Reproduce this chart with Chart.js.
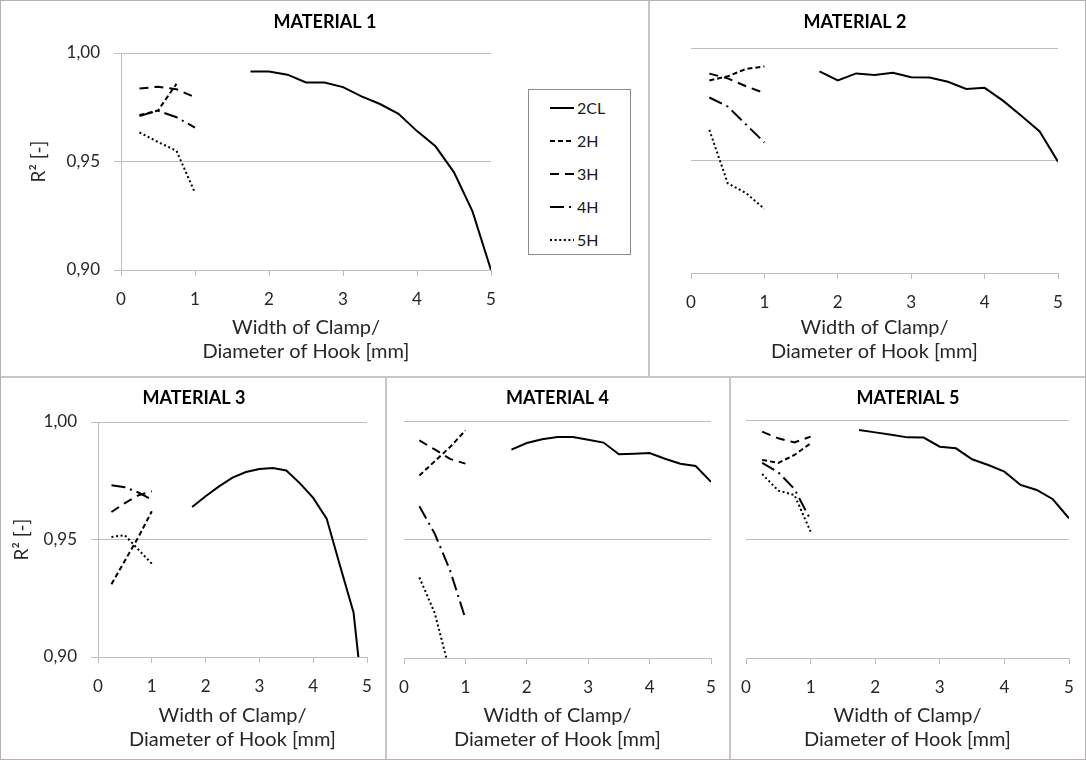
<!DOCTYPE html>
<html>
<head>
<meta charset="utf-8">
<title>R² – Width of Clamp / Diameter of Hook</title>
<script src="https://cdn.jsdelivr.net/npm/chart.js@4.4.0/dist/chart.umd.min.js"></script>
<style>
  body { margin: 0; background: #fff; font-family: Lato, sans-serif; }
  #sheet { position: relative; width: 1086px; height: 760px; background: #fff; overflow: hidden; }
  #sheet canvas { position: absolute; }
  .rule { position: absolute; background: #c9c5c9; }
  #frame { position: absolute; left: 0; top: 0; width: 1086px; height: 760px; box-sizing: border-box; border: 1px solid #b5b1b5; }
  #legend { position: absolute; left: 528px; top: 89px; width: 103px; height: 166px; box-sizing: border-box; border: 1px solid #8c8c8c; padding-top: 1px; background: #fff; }
  #legend .item { display: flex; align-items: center; height: 33px; font-size: 16px; color: #1a1a1a; }
  #legend svg { margin-left: 21px; margin-right: 3px; }
</style>
</head>
<body>
<div id="sheet">
  <div class="rule" style="left:0;top:376px;width:1086px;height:2px"></div>
  <div class="rule" style="left:648px;top:0;width:2px;height:377px"></div>
  <div class="rule" style="left:385px;top:377px;width:2px;height:383px"></div>
  <div class="rule" style="left:729px;top:377px;width:2px;height:383px"></div>
  <canvas id="mat1"></canvas>
  <canvas id="mat2"></canvas>
  <canvas id="mat3"></canvas>
  <canvas id="mat4"></canvas>
  <canvas id="mat5"></canvas>
  <div id="legend"></div>
  <div id="frame"></div>
</div>
<script>
// x positions: short hooks/clamps and the 2CL clamp widths
const xShort = [0.25, 0.5, 0.75, 1];
const xLong = [1.75, 2, 2.25, 2.5, 2.75, 3, 3.25, 3.5, 3.75, 4, 4.25, 4.5, 4.75, 5];
const xTicks = [0, 1, 2, 3, 4, 5];
const yTicks = [0.90, 0.95, 1.00];
const seriesNames = ['2CL', '2H', '3H', '4H', '5H'];
const xTitle = ['Width of Clamp/', 'Diameter of Hook [mm]'];
const yTitle = 'R² [-]';

// MATERIAL 1
const mat1_2CL = [0.9915, 0.9915, 0.990, 0.9864, 0.9864, 0.9843, 0.980, 0.9765, 0.972, 0.964, 0.957, 0.945, 0.927, 0.900];
const mat1_2H = [0.9714, 0.9735, 0.9858, null];
const mat1_3H = [0.9836, 0.9845, 0.9833, 0.9796];
const mat1_4H = [0.971, 0.9734, 0.9704, 0.9656];
const mat1_5H = [0.9634, 0.959, 0.9549, 0.9356];

// MATERIAL 2
const mat2_2CL = [0.9896, 0.9856, 0.9887, 0.988, 0.989, 0.987, 0.9869, 0.985, 0.9818, 0.9823, 0.9766, 0.9699, 0.9629, 0.9495];
const mat2_2H = [0.9856, 0.9874, 0.9907, 0.9918];
const mat2_3H = [0.9886, 0.9865, 0.983, 0.980];
const mat2_4H = [0.978, 0.974, 0.966, 0.958];
const mat2_5H = [0.9636, 0.9399, 0.9355, 0.9285];

// MATERIAL 3
const mat3_2CL = [0.9638, 0.9684, 0.9726, 0.9763, 0.9787, 0.980, 0.9804, 0.9794, 0.974, 0.9677, 0.9589, 0.9387, 0.919, 0.866];
const mat3_2H = [0.931, 0.941, 0.951, 0.962];
const mat3_3H = [0.9617, 0.9655, 0.9688, 0.9705];
const mat3_4H = [0.9731, 0.9722, 0.970, 0.967];
const mat3_5H = [0.9511, 0.9518, 0.9457, 0.9397];

// MATERIAL 4
const mat4_2CL = [0.9879, 0.9907, 0.9923, 0.9932, 0.9932, 0.9921, 0.9909, 0.986, 0.9862, 0.9865, 0.9841, 0.982, 0.981, 0.9743];
const mat4_2H = [0.977, 0.983, 0.989, 0.996];
const mat4_3H = [0.9918, 0.988, 0.984, 0.982];
const mat4_4H = [0.964, 0.9525, 0.937, 0.9166];
const mat4_5H = [0.934, 0.919, 0.894, null];

// MATERIAL 5
const mat5_2CL = [0.9958, 0.9948, 0.9938, 0.9927, 0.9926, 0.9888, 0.9881, 0.9835, 0.9811, 0.9783, 0.9727, 0.9706, 0.9667, 0.9587];
const mat5_2H = [0.9832, 0.982, 0.9853, 0.9902];
const mat5_3H = [0.9951, 0.9923, 0.9906, 0.993];
const mat5_4H = [0.982, 0.978, 0.971, 0.958];
const mat5_5H = [0.9773, 0.9703, 0.9685, 0.9531];

Chart.defaults.font.family = 'Lato, sans-serif';
Chart.defaults.color = '#262626';

const AXIS_GREY = '#bdbdbd';
const DASHES = { '2CL': [], '2H': [5, 3], '3H': [9, 6], '4H': [14, 5, 2, 5], '5H': [2, 2.6] };

const fmt = v => v.toFixed(2).replace('.', ',');

function makeDatasets(values) {
  return seriesNames.map((name, i) => {
    const xs = i === 0 ? xLong : xShort;
    return {
      label: name,
      data: xs.map((x, k) => ({ x: x, y: values[i][k] })),
      borderColor: '#000',
      backgroundColor: '#000',
      borderWidth: 2,
      borderDash: DASHES[name],
      pointRadius: 0,
      fill: false,
      tension: 0
    };
  });
}

// box = canvas rect on the sheet (its centre is where the title goes),
// area = plot rect (left, top, right, bottom)
function panel(p) {
  const [bx, by, bw, bh] = p.box;
  const [l, t, r, b] = p.area;
  const el = document.getElementById(p.id);
  el.width = bw;
  el.height = bh;
  el.style.left = bx + 'px';
  el.style.top = by + 'px';
  const titleLh = 21;

  return new Chart(el, {
    type: 'line',
    data: { datasets: makeDatasets(p.values) },
    options: {
      responsive: false,
      animation: false,
      events: [],
      layout: { padding: 0 },
      plugins: {
        legend: { display: false },
        tooltip: { enabled: false },
        title: {
          display: true,
          text: p.title,
          color: '#000',
          font: { size: 18, weight: 'bold', lineHeight: titleLh + 'px' },
          padding: { top: p.titleY - by - titleLh / 2, bottom: t - p.titleY - titleLh / 2 }
        }
      },
      scales: {
        x: {
          type: 'linear',
          min: 0,
          max: 5,
          afterBuildTicks: s => { s.ticks = xTicks.map(v => ({ value: v })); },
          afterFit: s => { s.height = by + bh - b; s.paddingLeft = 0; s.paddingRight = 0; },
          grid: { drawOnChartArea: false, drawTicks: true, tickLength: 6, color: AXIS_GREY },
          border: { display: true, color: AXIS_GREY },
          ticks: { padding: 13, font: { size: 17 }, maxRotation: 0 },
          title: {
            display: true,
            text: xTitle,
            font: { size: 20, lineHeight: '24px' },
            padding: { top: 0, bottom: by + bh - p.xTitleY - 12 }
          }
        },
        y: {
          min: 0.9,
          max: 1,
          afterBuildTicks: s => { s.ticks = yTicks.map(v => ({ value: v })); },
          afterFit: s => { s.width = l - bx; s.paddingTop = 0; s.paddingBottom = 0; },
          grid: { color: AXIS_GREY, drawTicks: p.yAxis, tickLength: 7 },
          border: { display: p.yAxis, color: AXIS_GREY },
          ticks: { display: p.yAxis, padding: 14, font: { size: 17 }, callback: fmt },
          title: {
            display: p.yAxis,
            text: yTitle,
            font: { size: 19, lineHeight: '23px' },
            padding: { top: p.yAxis ? p.yTitleX - bx - 11.5 : 0, bottom: 0 }
          }
        },
        // empty right-hand axis that only reserves the space right of the plot
        spacer: {
          position: 'right',
          afterFit: s => { s.width = bx + bw - r; s.paddingTop = 0; s.paddingBottom = 0; },
          grid: { display: false },
          border: { display: false },
          ticks: { display: false }
        }
      }
    }
  });
}

const chart1 = panel({ id: 'mat1', title: 'MATERIAL 1', box: [0, 0, 650, 376], area: [121, 53, 491, 270],
  titleY: 22, xTitleY: 352, yAxis: true, yTitleX: 39,
  values: [mat1_2CL, mat1_2H, mat1_3H, mat1_4H, mat1_5H] });
panel({ id: 'mat2', title: 'MATERIAL 2', box: [625, 0, 460, 376], area: [691, 48, 1058, 273],
  titleY: 22, xTitleY: 352, yAxis: false,
  values: [mat2_2CL, mat2_2H, mat2_3H, mat2_4H, mat2_5H] });
panel({ id: 'mat3', title: 'MATERIAL 3', box: [0, 377, 388, 383], area: [98, 422, 367, 657],
  titleY: 398, xTitleY: 740, yAxis: true, yTitleX: 22,
  values: [mat3_2CL, mat3_2H, mat3_3H, mat3_4H, mat3_5H] });
panel({ id: 'mat4', title: 'MATERIAL 4', box: [387, 377, 341, 383], area: [404, 421, 711, 658],
  titleY: 398, xTitleY: 740, yAxis: false,
  values: [mat4_2CL, mat4_2H, mat4_3H, mat4_4H, mat4_5H] });
panel({ id: 'mat5', title: 'MATERIAL 5', box: [731, 377, 354, 383], area: [746, 420, 1069, 658],
  titleY: 398, xTitleY: 740, yAxis: false,
  values: [mat5_2CL, mat5_2H, mat5_3H, mat5_4H, mat5_5H] });

// shared legend, built from the first chart's datasets
const legendBox = document.getElementById('legend');
Chart.defaults.plugins.legend.labels.generateLabels(chart1).forEach(item => {
  const row = document.createElement('div');
  row.className = 'item';
  const dash = (item.lineDash || []).join(' ') || 'none';
  row.innerHTML = '<svg width="24" height="4"><line x1="0" y1="2" x2="24" y2="2" stroke="#000" stroke-width="2" stroke-dasharray="' +
    dash + '"/></svg><span>' + item.text + '</span>';
  legendBox.appendChild(row);
});
</script>
</body>
</html>
